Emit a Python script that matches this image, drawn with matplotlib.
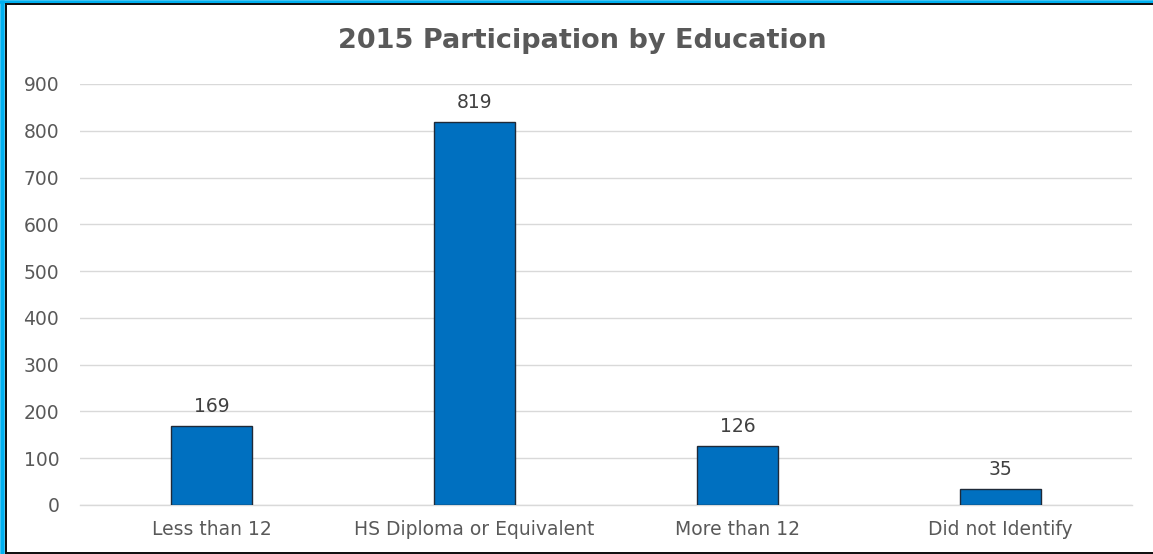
import matplotlib
matplotlib.use("Agg")
import matplotlib.pyplot as plt
from matplotlib.lines import Line2D

categories = ["Less than 12", "HS Diploma or Equivalent", "More than 12", "Did not Identify"]
participants = [169, 819, 126, 35]
y_ticks = [0, 100, 200, 300, 400, 500, 600, 700, 800, 900]
title = "2015 Participation by Education"

W, H = 1153, 554
fig = plt.figure(figsize=(W / 100, H / 100), dpi=100)
fig.patch.set_facecolor("white")

def px_line(xs, ys, color, lw_px, z):
    fig.add_artist(Line2D([v / W for v in xs], [1 - v / H for v in ys],
                          transform=fig.transFigure, color=color,
                          linewidth=lw_px * 0.72, solid_capstyle="butt", zorder=z))

# frame: cyan band on top and left, thin black line inside it and along the bottom
px_line([0, W], [1.5, 1.5], "#00B0F0", 3.5, 10)
px_line([2.2, 2.2], [0, H], "#00B0F0", 4.5, 10)
px_line([4.5, W], [4, 4], "#111111", 2, 11)
px_line([5.5, 5.5], [4, H], "#111111", 2, 11)
px_line([4.5, W], [552.5, 552.5], "#111111", 2, 11)

ax = fig.add_axes([80 / W, (H - 505) / H, (1132 - 80) / W, (505 - 84) / H])
x = range(len(categories))
bars = ax.bar(x, participants, width=0.31, color="#0070C0", edgecolor="#1F2A38",
              linewidth=1.0, zorder=3)

ax.set_xlim(-0.5, len(categories) - 0.5)
ax.set_ylim(0, 900)
ax.set_yticks(y_ticks)
ax.set_xticks(list(x))
ax.set_xticklabels(categories)
ax.grid(axis="y", color="#D9D9D9", linewidth=1, zorder=0)
ax.axhline(0, color="#D9D9D9", linewidth=1, zorder=1, clip_on=False)
for s in ax.spines.values():
    s.set_visible(False)
ax.tick_params(axis="both", length=0, labelsize=13.5, labelcolor="#595959")
ax.tick_params(axis="y", pad=15)
ax.tick_params(axis="x", pad=11)
for lbl in ax.get_xticklabels() + ax.get_yticklabels():
    lbl.set_family("DejaVu Sans")

for b, v in zip(bars, participants):
    ax.annotate(str(v), (b.get_x() + b.get_width() / 2, v), xytext=(0, 7),
                textcoords="offset points", ha="center", va="bottom",
                fontsize=13.5, color="#404040", family="DejaVu Sans")

fig.text(582 / W, 1 - 41 / H, title, ha="center", va="center",
         fontsize=19.5, fontweight="bold", color="#595959", family="DejaVu Sans")

fig.savefig("out.png", dpi=100)
